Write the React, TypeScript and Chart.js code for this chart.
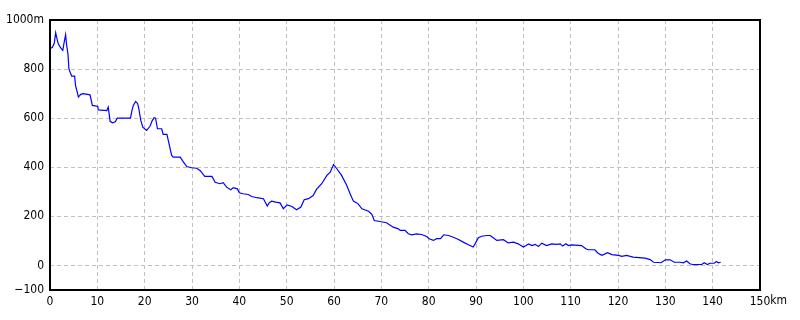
import React, { useEffect, useRef } from "react";
import { Chart, registerables } from "chart.js";

Chart.register(...registerables);

const distanceKm: number[] = [
  0, 0.5, 0.9, 1.2, 1.4, 1.75, 2.3, 2.7, 3.0, 3.3, 3.5, 3.8, 4.0, 4.3, 4.6, 5.2, 5.4, 5.7, 6.0, 6.5,
  7.0, 8.45, 8.95, 9.5, 10.1, 10.2, 12.0, 12.3, 12.7, 13.2, 13.8, 14.2, 17.0, 17.3, 17.6, 18.1, 18.5, 18.7, 19.2, 19.6,
  20.4, 21.1, 21.6, 22.0, 22.3, 22.7, 23.6, 23.9, 24.7, 25.0, 25.7, 26.05, 27.5, 28.2, 28.9, 29.9, 31.0, 31.7, 32.7, 34.2,
  34.9, 35.9, 36.6, 37.3, 38.2, 38.7, 39.6, 40.0, 40.8, 41.9, 42.6, 43.7, 45.1, 45.9, 46.3, 46.8, 47.7, 48.6, 49.3, 50.1,
  51.1, 52.1, 53.0, 53.7, 54.6, 55.6, 56.3, 57.4, 58.5, 59.2, 59.9, 60.6, 61.6, 62.7, 63.4, 64.1, 65.1, 65.9, 67.3, 68.0,
  68.5, 69.7, 71.1, 72.5, 73.6, 74.0, 75.0, 75.7, 76.4, 77.5, 78.5, 79.6, 80.1, 81.0, 81.7, 82.5, 83.2, 84.2, 85.2, 86.3,
  87.3, 88.4, 89.4, 89.8, 90.5, 91.2, 92.3, 93.0, 93.5, 94.4, 95.8, 96.8, 97.9, 98.9, 100.0, 100.6, 101.1, 101.8, 102.5, 103.2,
  103.9, 104.9, 106.0, 107.0, 107.8, 108.3, 109.0, 109.5, 110.2, 112.3, 113.2, 113.7, 115.1, 115.8, 116.6, 117.8, 118.7, 120.1, 120.8, 121.8,
  123.2, 125.7, 126.8, 127.5, 129.1, 130.0, 131.0, 131.9, 133.1, 133.8, 134.5, 135.2, 135.9, 137.7, 138.2, 138.9, 139.4, 140.3, 140.8, 141.2,
  141.7,
];

const elevationM: number[] = [
  883, 889, 905, 948, 930, 903, 885, 876, 910, 940, 900, 860, 801, 785, 771, 771, 733, 710, 686, 697,
  700, 695, 652, 650, 648, 634, 631, 645, 587, 581, 585, 600, 600, 630, 652, 668, 660, 645, 590, 563,
  550, 566, 590, 602, 600, 557, 557, 534, 534, 509, 448, 441, 441, 421, 403, 398, 396, 387, 363, 363,
  339, 333, 337, 319, 308, 317, 312, 296, 292, 289, 281, 276, 272, 242, 255, 262, 258, 255, 231, 247,
  240, 227, 238, 268, 272, 285, 310, 333, 367, 380, 411, 394, 367, 326, 292, 262, 251, 231, 221, 208,
  183, 179, 174, 156, 149, 143, 143, 129, 125, 129, 126, 118, 109, 102, 109, 109, 125, 122, 115, 106,
  95, 84, 75, 88, 113, 119, 122, 122, 115, 102, 105, 92, 95, 88, 75, 81, 88, 81, 86, 77,
  91, 81, 88, 86, 88, 79, 88, 81, 84, 81, 68, 64, 64, 50, 41, 52, 44, 41, 37, 41,
  34, 30, 24, 13, 11, 23, 23, 13, 13, 11, 18, 7, 3, 4, 11, 4, 9, 9, 16, 11,
  13,
];

const yTicks: number[] = [-100, 0, 200, 400, 600, 800, 1000];
const xTicks: number[] = [0, 10, 20, 30, 40, 50, 60, 70, 80, 90, 100, 110, 120, 130, 140, 150];
const yUnit = "m";
const xUnit = "km";

const FONT = "'Liberation Sans Narrow', 'DejaVu Sans Condensed', 'Liberation Sans', sans-serif";

const fmt = (v: number) => String(v).replace("-", "\u2212");

export default function App() {
  const canvasRef = useRef<HTMLCanvasElement | null>(null);

  useEffect(() => {
    document.body.style.margin = "0";
    const canvas = canvasRef.current;
    if (!canvas) return;

    const boxPlugin = {
      id: "boxPlugin",
      afterDraw(chart: any) {
        const { ctx, chartArea } = chart;
        const l = Math.round(chartArea.left);
        const r = Math.round(chartArea.right);
        const t = Math.round(chartArea.top);
        const b = Math.round(chartArea.bottom);
        ctx.save();
        ctx.strokeStyle = "#000000";
        ctx.lineWidth = 2;
        ctx.strokeRect(l, t, r - l, b - t);
        const xScale = chart.scales.x;
        ctx.font = `12px ${FONT}`;
        ctx.fillStyle = "#000000";
        ctx.textBaseline = "top";
        ctx.textAlign = "left";
        const lastLabel = String(xTicks[xTicks.length - 1]);
        const w = ctx.measureText(lastLabel).width;
        const px = xScale.getPixelForValue(xTicks[xTicks.length - 1]);
        ctx.fillText(xUnit, px + w / 2, b + 5);
        ctx.restore();
      },
    };

    const chart = new Chart(canvas, {
      type: "scatter",
      data: {
        datasets: [
          {
            data: distanceKm.map((d, i) => ({ x: d, y: elevationM[i] })),
            showLine: true,
            borderColor: "#0000ff",
            borderWidth: 1.2,
            pointRadius: 0,
            pointHoverRadius: 0,
            tension: 0,
            fill: false,
          },
        ],
      },
      options: {
        animation: false,
        responsive: false,
        maintainAspectRatio: false,
        events: [],
        layout: { padding: { top: 20, right: 40, left: 0, bottom: 0 } },
        plugins: {
          legend: { display: false },
          tooltip: { enabled: false },
          title: { display: false },
        },
        scales: {
          x: {
            type: "linear",
            min: 0,
            max: 150,
            afterBuildTicks: (scale: any) => {
              scale.ticks = xTicks.map((v) => ({ value: v }));
            },
            afterFit: (scale: any) => {
              scale.height = 30;
            },
            ticks: {
              autoSkip: false,
              maxRotation: 0,
              padding: 5,
              color: "#000000",
              font: { size: 12, family: FONT },
              callback: (v: any) => fmt(v),
            },
            grid: { color: "#c0c0c0", lineWidth: 1, drawTicks: false },
            border: { display: false, dash: [4, 3] },
          },
          y: {
            type: "linear",
            min: -100,
            max: 1000,
            afterBuildTicks: (scale: any) => {
              scale.ticks = yTicks.map((v) => ({ value: v }));
            },
            afterFit: (scale: any) => {
              scale.width = 50;
            },
            ticks: {
              autoSkip: false,
              padding: 6,
              color: "#000000",
              font: { size: 12, family: FONT },
              callback: (v: any) => (v === yTicks[yTicks.length - 1] ? `${fmt(v)}${yUnit}` : fmt(v)),
            },
            grid: { color: "#c0c0c0", lineWidth: 1, drawTicks: false },
            border: { display: false, dash: [4, 3] },
          },
        },
      },
      plugins: [boxPlugin],
    });

    return () => chart.destroy();
  }, []);

  return (
    <div style={{ position: "relative", width: 800, height: 320, background: "#ffffff" }}>
      <canvas ref={canvasRef} width={800} height={320} style={{ display: "block" }} />
    </div>
  );
}
